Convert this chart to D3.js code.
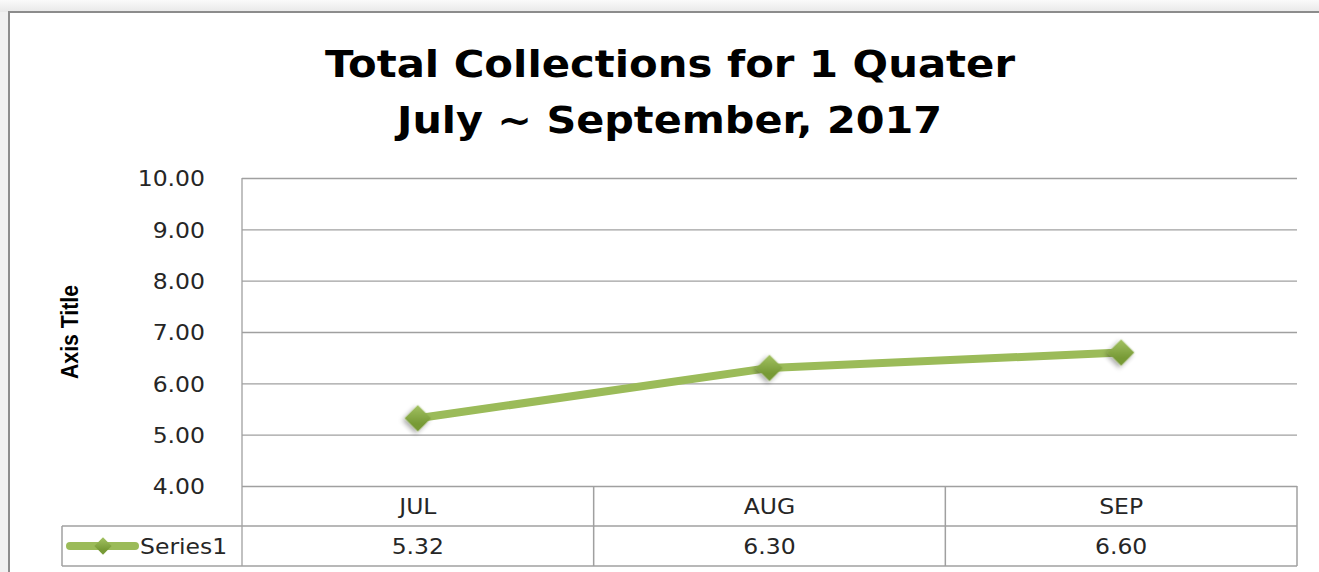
<!DOCTYPE html>
<html>
<head>
<meta charset="utf-8">
<script src="https://cdn.jsdelivr.net/npm/d3@7"></script>
<style>
  html, body { margin: 0; padding: 0; background: #f0f0f0; }
  svg { display: block; }
</style>
</head>
<body>
<svg id="chart" width="1319" height="572"></svg>
<script>
const titleLines = ["Total Collections for 1 Quater", "July ~ September, 2017"];
const categories = ["JUL", "AUG", "SEP"];
const seriesName = "Series1";
const seriesValues = [5.32, 6.30, 6.60];
const yTicks = [4, 5, 6, 7, 8, 9, 10];
const yAxisTitle = "Axis Title";

const W = 1319, H = 572;
const svg = d3.select("#chart");
const SX = 1.12; // horizontal stretch of the text in the reference

// page chrome gradient at top
const defs = svg.append("defs");
const topGrad = defs.append("linearGradient").attr("id", "topGrad").attr("x1", 0).attr("y1", 0).attr("x2", 0).attr("y2", 1);
topGrad.append("stop").attr("offset", 0).attr("stop-color", "#fafafa");
topGrad.append("stop").attr("offset", 1).attr("stop-color", "#e8e8e8");
svg.append("rect").attr("x", 0).attr("y", 0).attr("width", W).attr("height", 12).attr("fill", "url(#topGrad)");

// chart area
svg.append("rect").attr("x", 9).attr("y", 12).attr("width", W).attr("height", H)
  .attr("fill", "#ffffff").attr("stroke", "#8c8c8c").attr("stroke-width", 2);

const mGrad = defs.append("linearGradient").attr("id", "mGrad").attr("x1", 0).attr("y1", 0).attr("x2", 0).attr("y2", 1);
mGrad.append("stop").attr("offset", 0).attr("stop-color", "#a3c262");
mGrad.append("stop").attr("offset", 0.5).attr("stop-color", "#8cae48");
mGrad.append("stop").attr("offset", 1).attr("stop-color", "#779a36");
const mGrad2 = defs.append("linearGradient").attr("id", "mGrad2").attr("gradientTransform", "rotate(45)");
mGrad2.append("stop").attr("offset", 0).attr("stop-color", "#a3c262");
mGrad2.append("stop").attr("offset", 1).attr("stop-color", "#779a36");
const shadow = defs.append("filter").attr("id", "shadow").attr("x", "-50%").attr("y", "-50%").attr("width", "200%").attr("height", "200%");
shadow.append("feDropShadow").attr("dx", 0).attr("dy", 3).attr("stdDeviation", 2.5).attr("flood-color", "#000").attr("flood-opacity", 0.35);

// Title
const title = svg.append("g").attr("font-family", "DejaVu Sans, Verdana, sans-serif").attr("font-weight", "bold")
  .attr("font-size", 38).attr("fill", "#000").attr("text-anchor", "middle");
title.append("text").attr("x", 670).attr("y", 77).attr("textLength", 690).attr("lengthAdjust", "spacingAndGlyphs").text(titleLines[0]);
title.append("text").attr("x", 669.5).attr("y", 133).attr("textLength", 545).attr("lengthAdjust", "spacingAndGlyphs").text(titleLines[1]);

const plot = { left: 242, right: 1297, top: 178, bottom: 486 };
const rowH = 40;

const y = d3.scaleLinear().domain([4, 10]).range([plot.bottom, plot.top]);
const xBand = d3.scaleBand().domain(categories).range([plot.left, plot.right]).paddingInner(0).paddingOuter(0);
const x = d3.scalePoint().domain(categories).range([plot.left, plot.right]).padding(0.5);

const gridColor = "#a0a0a0";
const textColor = "#262626";
const tickFont = "DejaVu Sans, Verdana, sans-serif";
const fs = 21;

// gridlines via axis
const yAxis = d3.axisLeft(y).tickValues(yTicks).tickSize(-(plot.right - plot.left)).tickFormat(d3.format(".2f")).tickPadding(37);
const gy = svg.append("g").attr("transform", `translate(${plot.left},0)`).call(yAxis);
gy.select(".domain").remove();
gy.selectAll(".tick line").attr("stroke", gridColor).attr("stroke-width", 1.3);
gy.selectAll(".tick text").attr("font-family", tickFont).attr("font-size", fs).attr("fill", textColor)
  .attr("x", -37 / SX).attr("transform", `scale(${SX},1)`)
  .attr("dy", "0.38em");

// left plot border
svg.append("line").attr("x1", plot.left).attr("x2", plot.left).attr("y1", plot.top).attr("y2", plot.bottom + 2 * rowH)
  .attr("stroke", gridColor).attr("stroke-width", 1.3);

// data table
const table = svg.append("g");
table.append("line").attr("x1", plot.left).attr("x2", plot.right).attr("y1", plot.bottom + rowH).attr("y2", plot.bottom + rowH)
  .attr("stroke", gridColor).attr("stroke-width", 1.5);
table.append("line").attr("x1", 62).attr("x2", plot.left).attr("y1", plot.bottom + rowH).attr("y2", plot.bottom + rowH)
  .attr("stroke", gridColor).attr("stroke-width", 1.5);
table.append("line").attr("x1", 62).attr("x2", plot.right).attr("y1", plot.bottom + 2 * rowH).attr("y2", plot.bottom + 2 * rowH)
  .attr("stroke", gridColor).attr("stroke-width", 1.5);
table.append("line").attr("x1", 62).attr("x2", 62).attr("y1", plot.bottom + rowH).attr("y2", plot.bottom + 2 * rowH)
  .attr("stroke", gridColor).attr("stroke-width", 1.5);
categories.forEach(c => {
  const xe = xBand(c) + xBand.bandwidth();
  table.append("line").attr("x1", xe).attr("x2", xe).attr("y1", plot.bottom).attr("y2", plot.bottom + 2 * rowH)
    .attr("stroke", gridColor).attr("stroke-width", 1.5);
});
// category labels
table.selectAll("text.cat").data(categories).join("text").attr("class", "cat")
  .attr("transform", d => `translate(${x(d)},${plot.bottom + 28}) scale(${SX},1)`).attr("text-anchor", "middle")
  .attr("font-family", tickFont).attr("font-size", fs).attr("fill", textColor).text(d => d);
// values
table.selectAll("text.val").data(seriesValues).join("text").attr("class", "val")
  .attr("transform", (d, i) => `translate(${x(categories[i])},${plot.bottom + rowH + 28}) scale(${SX},1)`).attr("text-anchor", "middle")
  .attr("font-family", tickFont).attr("font-size", fs).attr("fill", textColor).text(d => d3.format(".2f")(d));

// legend key
const green = "#9bbb59";
const ly = plot.bottom + rowH + 20;
table.append("line").attr("x1", 70).attr("x2", 135).attr("y1", ly).attr("y2", ly)
  .attr("stroke", green).attr("stroke-width", 8).attr("stroke-linecap", "round");
table.append("path").attr("d", d3.symbol().type(d3.symbolSquare).size(150)())
  .attr("transform", `translate(103,${ly}) rotate(45)`).attr("fill", "url(#mGrad2)");
table.append("text").attr("transform", `translate(140,${plot.bottom + rowH + 28}) scale(${SX},1)`).attr("font-family", tickFont)
  .attr("font-size", fs).attr("fill", textColor).text(seriesName);

// axis title
svg.append("text").attr("transform", `translate(78,${332}) rotate(-90)`).attr("text-anchor", "middle")
  .attr("font-family", "Liberation Sans Narrow, Arial Narrow, sans-serif").attr("font-weight", "bold")
  .attr("font-size", 23).attr("fill", "#000").attr("textLength", 94).attr("lengthAdjust", "spacingAndGlyphs").text(yAxisTitle);

// line
const line = d3.line().x((d, i) => x(categories[i])).y(d => y(d));
svg.append("path").datum(seriesValues).attr("d", line).attr("fill", "none")
  .attr("stroke", green).attr("stroke-width", 8).attr("stroke-linejoin", "round").attr("stroke-linecap", "round");

// markers
svg.selectAll("path.marker").data(seriesValues).join("path").attr("class", "marker")
  .attr("d", d3.symbol().type(d3.symbolSquare).size(350)())
  .attr("transform", (d, i) => `translate(${x(categories[i])},${y(d)}) rotate(45)`)
  .attr("fill", "url(#mGrad2)").attr("filter", "url(#shadow)");
</script>
</body>
</html>
